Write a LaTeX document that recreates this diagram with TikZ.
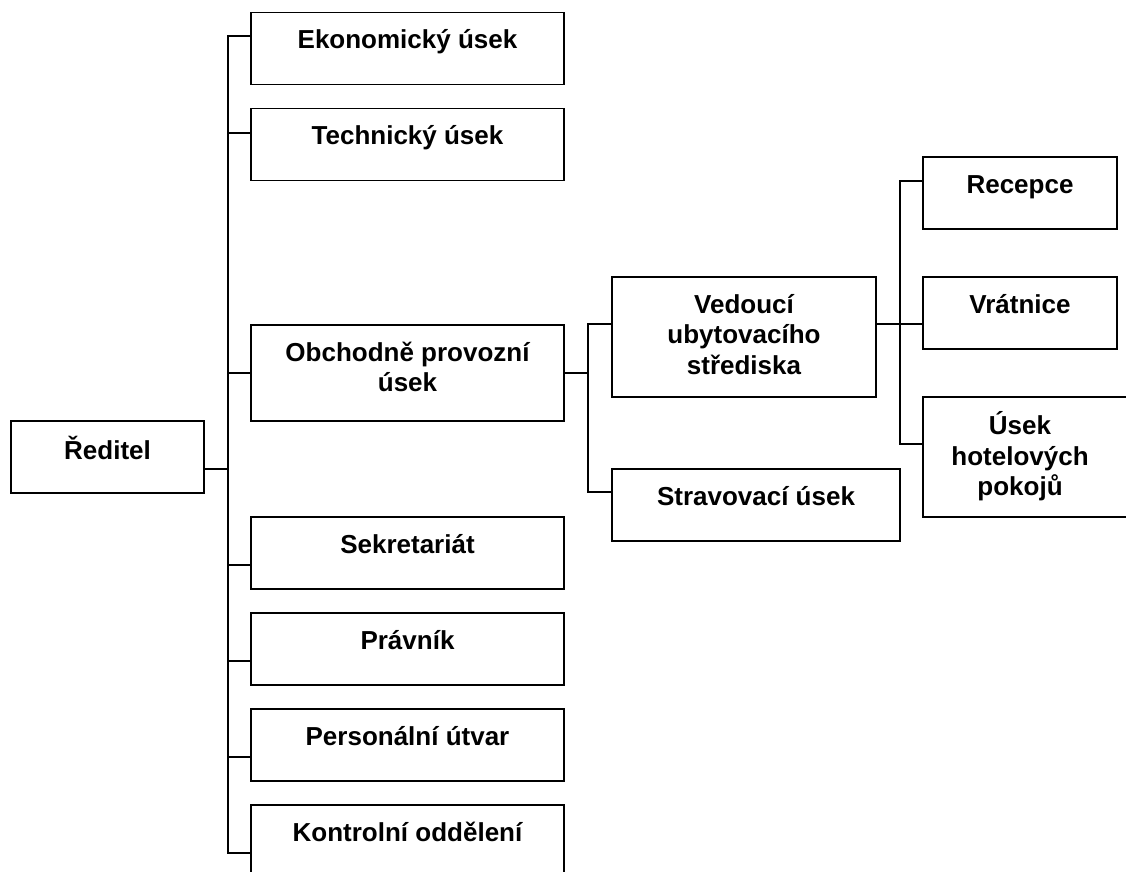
\documentclass[tikz,border=0pt]{standalone}
\usepackage{fontspec}
\setmainfont{Liberation Sans}
\begin{document}
\begin{tikzpicture}[x=1pt,y=-1pt,
  box/.style={draw, line width=1.3pt, inner sep=0pt, outer sep=0pt, anchor=north west},
  txt/.style={anchor=north, inner sep=0pt, align=center, font=\fontsize{26}{30.5}\selectfont\bfseries},
  conn/.style={line width=1.3pt, line join=miter}]
\useasboundingbox (0,0) rectangle (1126,871);
\clip (0,0) rectangle (1126,871);
% boxes
\node[box, minimum width=193pt, minimum height=72pt] (red) at (11,421) {};
\node[box, minimum width=313pt, minimum height=72pt] (eko) at (251,12.5) {};
\node[box, minimum width=313pt, minimum height=72pt] (tech) at (251,108.5) {};
\node[box, minimum width=313pt, minimum height=96pt] (obch) at (251,325) {};
\node[box, minimum width=313pt, minimum height=72pt] (sekr) at (251,517) {};
\node[box, minimum width=313pt, minimum height=72pt] (prav) at (251,613) {};
\node[box, minimum width=313pt, minimum height=72pt] (pers) at (251,709) {};
\node[box, minimum width=313pt, minimum height=72pt] (kont) at (251,805) {};
\node[box, minimum width=264pt, minimum height=120pt] (ved) at (612,277) {};
\node[box, minimum width=288pt, minimum height=72pt] (strav) at (612,469) {};
\node[box, minimum width=194pt, minimum height=72pt] (rec) at (923,157) {};
\node[box, minimum width=194pt, minimum height=72pt] (vrat) at (923,277) {};
\node[box, minimum width=210pt, minimum height=120pt] (usek) at (923,397) {};
% texts
\node[txt] (red-t) at ([yshift=-14.65pt]red.north) {\strut Ředitel};
\node[txt] (eko-t) at ([yshift=-14.65pt]eko.north) {\strut Ekonomický úsek};
\node[txt] (tech-t) at ([yshift=-14.65pt]tech.north) {\strut Technický úsek};
\node[txt] (obch-t) at ([yshift=-14.65pt]obch.north) {\strut Obchodně provozní\\úsek};
\node[txt] (sekr-t) at ([yshift=-14.65pt]sekr.north) {\strut Sekretariát};
\node[txt] (prav-t) at ([yshift=-14.65pt]prav.north) {\strut Právník};
\node[txt] (pers-t) at ([yshift=-14.65pt]pers.north) {\strut Personální útvar};
\node[txt] (kont-t) at ([yshift=-14.65pt]kont.north) {\strut Kontrolní oddělení};
\node[txt] (ved-t) at ([yshift=-14.65pt]ved.north) {\strut Vedoucí\\ubytovacího\\střediska};
\node[txt] (strav-t) at ([yshift=-14.65pt]strav.north) {\strut Stravovací úsek};
\node[txt] (rec-t) at ([yshift=-14.65pt]rec.north) {\strut Recepce};
\node[txt] (vrat-t) at ([yshift=-14.65pt]vrat.north) {\strut Vrátnice};
\node[txt] (usek-t) at (1020,411.65) {\strut Úsek\\hotelových\\pokojů};
% bus coordinates
\coordinate (b-eko) at (228,36);
\coordinate (b-tech) at (228,133);
\coordinate (b-obch) at (228,373);
\coordinate (b-red) at (228,469);
\coordinate (b-sekr) at (228,565);
\coordinate (b-prav) at (228,661);
\coordinate (b-pers) at (228,757);
\coordinate (b-kont) at (228,853);
\coordinate (m-ved) at (588,324);
\coordinate (m-obch) at (588,373);
\coordinate (m-strav) at (588,492);
\coordinate (r-rec) at (900,181);
\coordinate (r-vrat) at (900,324);
\coordinate (r-usek) at (900,444);
% connectors
\draw[conn] (b-eko -| eko.west) -- (b-eko) -- (b-kont) -- (b-kont -| kont.west);
\draw[conn] (b-tech) -- (b-tech -| tech.west);
\draw[conn] (b-obch) -- (b-obch -| obch.west);
\draw[conn] (red.east |- b-red) -- (b-red);
\draw[conn] (b-sekr) -- (b-sekr -| sekr.west);
\draw[conn] (b-prav) -- (b-prav -| prav.west);
\draw[conn] (b-pers) -- (b-pers -| pers.west);
\draw[conn] (obch.east |- m-obch) -- (m-obch);
\draw[conn] (m-ved -| ved.west) -- (m-ved) -- (m-strav) -- (m-strav -| strav.west);
\draw[conn] (r-rec -| rec.west) -- (r-rec) -- (r-usek) -- (r-usek -| usek.west);
\draw[conn] (ved.east |- r-vrat) -- (r-vrat -| vrat.west);
\end{tikzpicture}
\end{document}
